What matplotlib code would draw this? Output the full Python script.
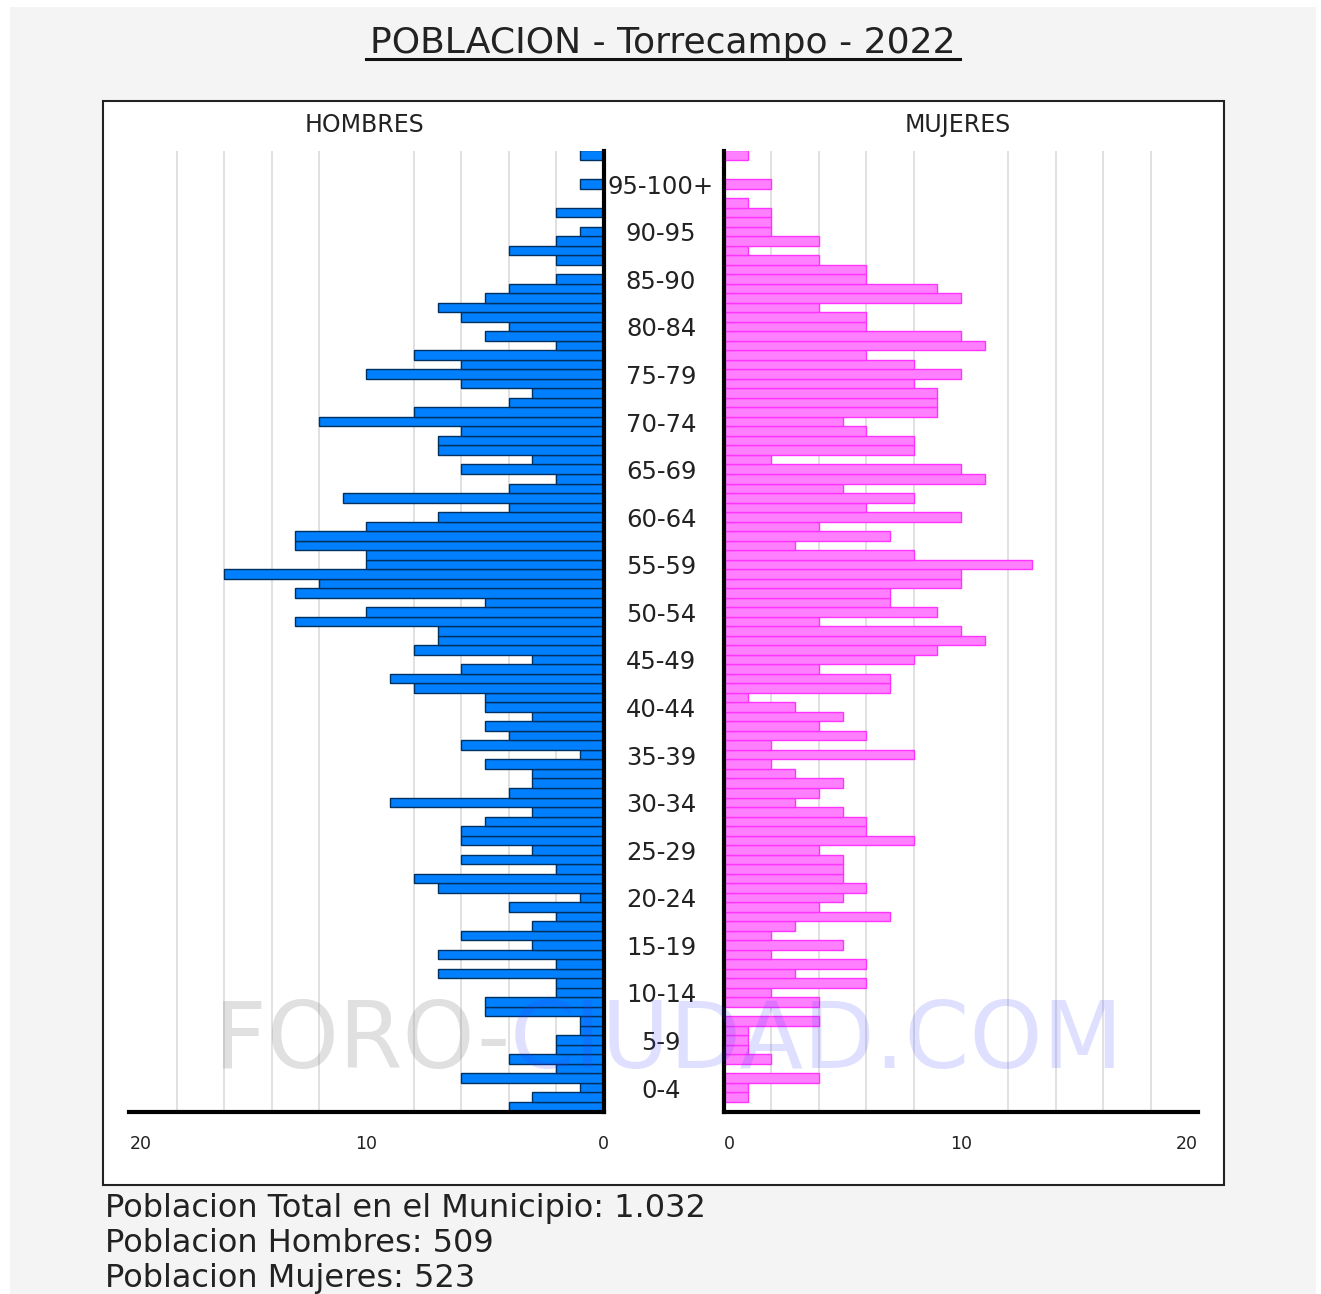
import numpy as np
import matplotlib
matplotlib.use('Agg')
import matplotlib.pyplot as plt
from matplotlib.patches import Rectangle
from matplotlib.lines import Line2D
from matplotlib import transforms

plt.rcParams['font.family'] = ['DejaVu Sans']

# Datos por edad simple, de 100+ (arriba) a 0 (abajo)
hombres_desc = [1, 0, 0, 1, 0, 0, 2, 0, 1, 2, 4, 2, 0, 2, 4, 5, 7, 6, 4, 5, 2, 8, 6, 10, 6,
                3, 4, 8, 12, 6, 7, 7, 3, 6, 2, 4, 11, 4, 7, 10, 13, 13, 10, 10, 16, 12, 13, 5, 10, 13,
                7, 7, 8, 3, 6, 9, 8, 5, 5, 3, 5, 4, 6, 1, 5, 3, 3, 4, 9, 3, 5, 6, 6, 3, 6,
                2, 8, 7, 1, 4, 2, 3, 6, 3, 7, 2, 7, 2, 2, 5, 5, 1, 1, 2, 2, 4, 2, 6, 1, 3, 4]
mujeres_desc = [1, 0, 0, 2, 0, 1, 2, 2, 2, 4, 1, 4, 6, 6, 9, 10, 4, 6, 6, 10, 11, 6, 8, 10, 8,
                9, 9, 9, 5, 6, 8, 8, 2, 10, 11, 5, 8, 6, 10, 4, 7, 3, 8, 13, 10, 10, 7, 7, 9, 4,
                10, 11, 9, 8, 4, 7, 7, 1, 3, 5, 4, 6, 2, 8, 2, 3, 5, 4, 3, 5, 6, 6, 8, 4, 5,
                5, 5, 6, 5, 4, 7, 3, 2, 5, 2, 6, 3, 6, 2, 4, 0, 4, 1, 1, 1, 2, 0, 4, 1, 1, 0]

hombres = hombres_desc[::-1]
mujeres = mujeres_desc[::-1]
edades = np.arange(len(hombres))

grupos = ['0-4', '5-9', '10-14', '15-19', '20-24', '25-29', '30-34', '35-39',
          '40-44', '45-49', '50-54', '55-59', '60-64', '65-69', '70-74', '75-79',
          '80-84', '85-90', '90-95', '95-100+']
ticks_val = [20, 10, 0]

titulo = 'POBLACION - Torrecampo - 2022'
resumen = ['Poblacion Total en el Municipio: 1.032',
           'Poblacion Hombres: 509',
           'Poblacion Mujeres: 523']

W, H = 1321, 1294
fig = plt.figure(figsize=(W / 100, H / 100), dpi=100)
fig.patch.set_facecolor('white')


def fx(px):
    return px / W


def fy(py):
    return 1 - py / H


# fondo gris y recuadro blanco
fig.add_artist(Rectangle((fx(10), 0), fx(1316) - fx(10), fy(7), transform=fig.transFigure,
                         facecolor='#f4f4f4', edgecolor='none', zorder=-3))
fig.add_artist(Rectangle((fx(103), fy(1185)), fx(1224) - fx(103), fy(101) - fy(1185),
                         transform=fig.transFigure, facecolor='white', edgecolor='#222222',
                         linewidth=1.5, zorder=-2))

top, bot = 150.5, 1111.5
axL = fig.add_axes([fx(129.3), fy(bot), (603.5 - 129.3) / W, (bot - top) / H])
axR = fig.add_axes([fx(724), fy(bot), 474 / W, (bot - top) / H])

axL.barh(edades, hombres, height=1.0, color='#0080ff', edgecolor='#00305f', linewidth=1.0, zorder=3)
axR.barh(edades, mujeres, height=1.0, color='#ff80ff', edgecolor='#ff33ff', linewidth=1.0, zorder=3)

axL.set_xlim(20, 0)
axR.set_xlim(0, 20)

for ax, visibles in ((axL, ('right', 'bottom')), (axR, ('left', 'bottom'))):
    ax.set_facecolor('none')
    ax.set_ylim(-0.5, 100.5)
    ax.set_yticks([])
    for lado, sp in ax.spines.items():
        if lado in visibles:
            sp.set_linewidth(3)
            sp.set_color('black')
            sp.set_zorder(5)
        else:
            sp.set_visible(False)
    ax.set_xticks(range(2, 21, 2), minor=True)
    ax.grid(True, which='minor', axis='x', color='#dedede', linewidth=1.3, zorder=1)
    ax.set_axisbelow(True)
    ax.set_xticks(ticks_val)
    ax.set_xticklabels([str(v) for v in ticks_val])
    ax.tick_params(axis='x', which='both', length=0, pad=17, labelsize=12.5, colors='#222222')

labs = axL.get_xticklabels()
labs[0].set_ha('left')
labs = axR.get_xticklabels()
labs[0].set_ha('right')
labs[2].set_ha('left')

# etiquetas de grupos de edad en el centro
trans = transforms.blended_transform_factory(fig.transFigure, axL.transData)
for i, g in enumerate(grupos):
    axL.text(fx(661), 2 + 5 * i - 0.3, g, transform=trans, ha='center', va='center',
             fontsize=17.5, color='#222222', clip_on=False, zorder=6)

fig.text(fx(365), fy(125), 'HOMBRES', ha='center', va='center', fontsize=17, color='#222222')
fig.text(fx(958), fy(125), 'MUJERES', ha='center', va='center', fontsize=17, color='#222222')

t = fig.text(fx(663), fy(43), titulo, ha='center', va='center', fontsize=26, color='#222222')

for i, linea in enumerate(resumen):
    fig.text(fx(105), fy(1208 + 35.5 * i), linea, ha='left', va='center', fontsize=23, color='#222222')

# marca de agua
fig.text(fx(510), fy(1042), 'FORO-', ha='right', va='center', fontsize=66,
         color='#909090', alpha=0.28, zorder=10)
fig.text(fx(510), fy(1042), 'CIUDAD.COM', ha='left', va='center', fontsize=67,
         color='#3c3cff', alpha=0.16, zorder=10)

# subrayado del titulo
fig.canvas.draw()
bb = t.get_window_extent().transformed(fig.transFigure.inverted())
fig.add_artist(Line2D([bb.x0 - 0.003, bb.x1 + 0.003], [fy(59), fy(59)], transform=fig.transFigure,
                      color='#111111', linewidth=2.2))

fig.savefig('out.png', dpi=100)
